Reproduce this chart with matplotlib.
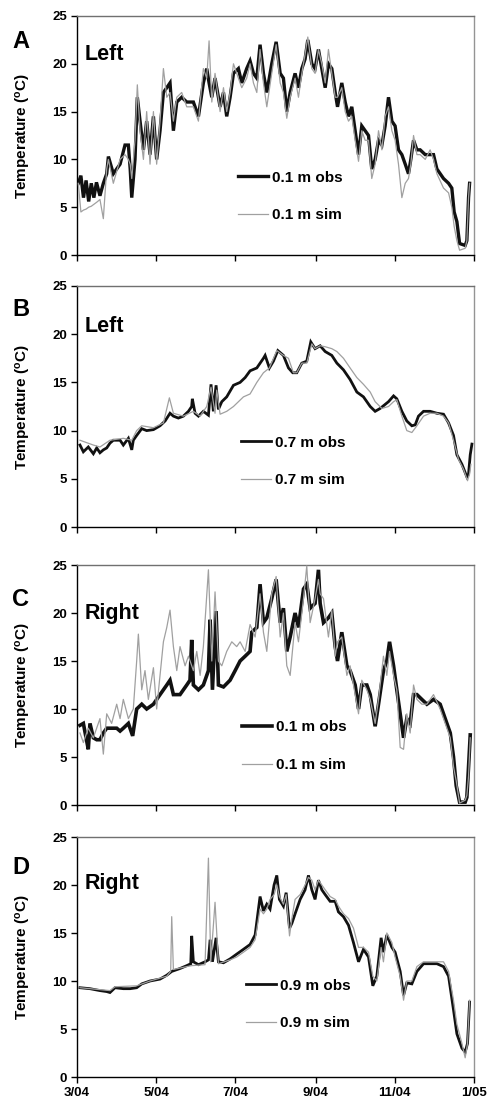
import numpy as np
import matplotlib
matplotlib.use('Agg')
import matplotlib.pyplot as plt

plt.rcParams['font.family'] = ['Liberation Sans', 'DejaVu Sans']
plt.rcParams['mathtext.default'] = 'regular'

# ---------------- data ----------------
start_date = '2004-03-01'
end_date = '2005-01-01'
tick_dates = ['2004-03-01', '2004-05-01', '2004-07-01', '2004-09-01', '2004-11-01', '2005-01-01']
tick_labels = ['3/04', '5/04', '7/04', '9/04', '11/04', '1/05']
y_ticks = [0, 5, 10, 15, 20, 25]
panel_letters = ['A', 'B', 'C', 'D']
panel_sides = ['Left', 'Left', 'Right', 'Right']
obs_labels = ['0.1 m obs', '0.7 m obs', '0.1 m obs', '0.9 m obs']
sim_labels = ['0.1 m sim', '0.7 m sim', '0.1 m sim', '0.9 m sim']

# Panel A (days since 1 March 2004)
a_days = [1.0, 3.0, 5.0, 7.0, 9.0, 11.0, 13.0, 15.0, 17.7, 20.3,
          22.9, 24.2, 28.0, 33.2, 37.0, 39.6, 41.0, 42.2, 44.7, 46.5,
          48.6, 51.2, 53.7, 56.3, 58.9, 61.4, 64.0, 66.6, 69.2, 71.7,
          74.3, 76.9, 80.7, 84.6, 89.7, 93.6, 97.4, 100.0, 101.8, 103.9,
          106.4, 110.3, 112.9, 115.4, 118.0, 120.6, 124.4, 127.0, 130.8, 133.4,
          136.0, 138.6, 141.1, 143.7, 146.3, 150.1, 153.5, 156.6, 159.1, 161.7,
          164.3, 168.1, 170.7, 173.3, 175.8, 177.9, 181.0, 183.5, 186.1, 188.7,
          191.3, 193.8, 196.4, 199.0, 200.8, 204.1, 206.7, 209.3, 211.8, 214.4,
          217.0, 219.5, 222.1, 224.7, 227.2, 229.8, 232.4, 235.0, 237.5, 240.1,
          242.7, 245.2, 247.8, 250.4, 253.0, 255.5, 257.3, 259.4, 262.0, 264.5,
          268.4, 272.2, 274.8, 277.4, 282.5, 286.4, 288.9, 290.7, 292.8, 294.9,
          299.2, 300.5, 301.8, 302.6]
a_obs = [7.5, 8.3, 6.0, 7.8, 5.6, 7.5, 6.0, 7.6, 6.2, 7.5,
         8.5, 10.3, 8.5, 9.5, 11.5, 11.5, 9.0, 6.0, 10.0, 16.5,
         14.0, 11.0, 14.0, 10.5, 14.5, 10.0, 13.0, 17.0, 17.5, 18.0,
         13.0, 16.0, 16.5, 16.0, 16.0, 14.5, 18.0, 19.5, 18.0, 16.5,
         18.5, 15.5, 17.0, 14.5, 16.5, 19.0, 19.5, 18.0, 19.5, 20.3,
         19.0, 18.5, 22.0, 19.0, 17.0, 20.0, 22.3, 19.0, 18.5, 15.0,
         17.0, 19.0, 17.5, 19.5, 20.5, 22.5, 20.0, 19.5, 21.5, 19.5,
         17.5, 20.0, 19.5, 17.0, 15.5, 18.0, 16.0, 14.5, 15.5, 13.0,
         10.5, 13.5, 13.0, 12.5, 9.0, 10.0, 12.0, 11.5, 13.5, 16.5,
         14.0, 13.5, 11.0, 10.5, 9.5, 8.5, 10.0, 12.0, 11.0, 11.0,
         10.5, 10.5, 10.5, 9.0, 8.0, 7.5, 7.0, 4.5, 3.5, 1.2,
         1.0, 1.5, 6.0, 7.5]
a_sim = [7.5, 4.5, 4.7, 4.8, 5.0, 5.1, 5.3, 5.5, 5.8, 3.8,
         9.0, 10.0, 7.5, 10.0, 10.5, 10.0, 9.5, 8.0, 12.0, 17.8,
         13.0, 10.0, 15.0, 9.5, 15.0, 9.5, 14.0, 19.5, 16.5, 17.0,
         14.0, 16.5, 17.0, 15.5, 15.5, 14.0, 19.5, 18.5, 22.4, 16.0,
         19.0, 15.0, 17.5, 15.0, 17.0, 20.0, 18.5, 17.5, 18.5, 20.0,
         18.0, 17.0, 21.5, 18.0, 15.5, 19.0, 22.0, 18.0, 17.0, 14.3,
         16.5, 18.5, 16.5, 19.0, 21.0, 22.8, 19.5, 19.0, 21.5, 20.0,
         18.0, 21.5, 19.0, 16.5, 16.5, 17.5, 15.0, 14.0, 14.5, 12.0,
         9.8, 13.0, 12.0, 12.0, 8.0, 9.5, 13.0, 11.0, 14.5, 15.5,
         13.0, 12.0, 9.5, 6.0, 7.5, 8.0, 9.5, 12.5, 10.5, 10.5,
         10.0, 11.0, 10.0, 8.5, 7.0, 6.5, 5.0, 3.0, 1.5, 0.5,
         0.7, 1.5, 6.0, 7.5]

# Panel B
b_obs_days = [2.3, 4.9, 8.7, 12.6, 15.2, 17.7, 20.3, 22.9, 25.4, 28.0,
              33.2, 35.7, 39.6, 42.2, 43.4, 46.0, 49.9, 53.7, 58.9, 64.0,
              67.9, 71.7, 74.3, 78.1, 82.0, 85.9, 88.4, 88.9, 91.0, 93.6,
              97.4, 101.3, 103.3, 105.1, 107.2, 109.0, 111.6, 115.4, 120.6, 125.7,
              129.6, 133.4, 138.6, 143.7, 145.0, 148.3, 151.4, 154.8, 159.1, 163.0,
              166.3, 169.4, 173.3, 177.1, 180.2, 183.5, 187.4, 191.3, 196.4, 200.3,
              205.4, 210.5, 215.7, 220.8, 226.0, 229.8, 233.7, 240.1, 244.0, 246.5,
              250.4, 254.2, 258.1, 260.7, 263.2, 267.1, 272.2, 277.4, 282.5, 286.4,
              290.2, 292.8, 296.7, 300.5, 301.8, 303.1, 304.4]
b_obs = [8.5, 7.8, 8.3, 7.6, 8.2, 7.7, 8.0, 8.2, 8.7, 9.0,
         9.0, 8.5, 9.2, 8.0, 9.0, 9.5, 10.2, 10.0, 10.1, 10.5,
         11.0, 11.8, 11.5, 11.3, 11.5, 12.0, 12.5, 13.3, 11.8, 11.5,
         12.0, 11.6, 14.8, 12.0, 14.7, 12.2, 13.0, 13.5, 14.7, 15.0,
         15.5, 16.2, 16.5, 17.5, 17.8, 16.5, 17.2, 18.3, 17.8, 16.5,
         16.0, 16.0, 17.0, 17.2, 19.2, 18.5, 18.8, 18.2, 17.8, 17.0,
         16.3, 15.3, 14.0, 13.5, 12.5, 12.0, 12.3, 13.0, 13.6, 13.3,
         12.0, 11.0, 10.5, 10.6, 11.5, 12.0, 12.0, 11.8, 11.7, 10.8,
         9.5, 7.5, 6.5, 5.2, 5.5, 7.5, 8.6]
b_sim_days = [2.3, 12.6, 17.7, 25.4, 35.7, 42.2, 46.0, 49.9, 58.9, 66.6,
              71.2, 74.3, 82.0, 89.7, 94.9, 100.0, 103.3, 106.4, 107.7, 110.3,
              115.4, 120.6, 128.3, 133.4, 138.6, 143.7, 148.3, 154.0, 159.1, 163.0,
              166.8, 169.4, 173.3, 177.1, 181.0, 183.5, 187.4, 191.3, 196.4, 200.3,
              205.4, 210.5, 215.7, 220.8, 226.0, 229.8, 235.0, 240.1, 244.0, 246.5,
              250.4, 254.2, 258.1, 262.0, 267.1, 272.2, 277.4, 282.5, 286.4, 290.2,
              294.1, 297.9, 301.0, 302.6, 303.6]
b_sim = [9.0, 8.5, 8.3, 9.0, 9.2, 9.0, 10.0, 10.5, 10.3, 10.8,
         13.4, 11.8, 11.5, 12.0, 11.5, 12.5, 14.5, 11.8, 14.2, 11.7,
         12.0, 12.5, 13.5, 13.8, 15.0, 16.0, 16.5, 18.3, 17.8, 17.5,
         16.0, 16.0, 17.0, 17.0, 19.0, 18.5, 18.8, 18.7, 18.5, 18.2,
         17.5, 16.5, 15.5, 14.8, 14.0, 13.0, 12.3, 12.5, 13.0, 13.2,
         11.5, 10.0, 9.8, 10.5, 11.5, 11.8, 11.8, 11.5, 10.8, 9.0,
         7.0, 6.0, 4.8, 5.5, 6.5]

# Panel C
c_obs_days = [2.3, 4.9, 7.0, 8.7, 10.0, 12.6, 15.2, 17.7, 20.3, 22.9,
              25.4, 30.6, 33.2, 35.7, 39.6, 42.9, 46.0, 49.9, 53.7, 58.9,
              64.0, 69.2, 71.7, 74.3, 79.4, 84.6, 87.1, 88.4, 89.7, 93.6,
              97.4, 101.3, 102.6, 104.4, 107.2, 109.0, 112.9, 118.0, 121.9, 125.7,
              129.6, 133.4, 134.7, 138.6, 141.1, 143.7, 146.3, 150.1, 153.5, 156.6,
              159.1, 161.7, 164.3, 168.1, 170.7, 174.6, 177.1, 179.7, 183.5, 186.1,
              187.4, 190.0, 193.8, 196.4, 199.0, 200.8, 204.1, 208.0, 210.5, 214.4,
              217.0, 219.5, 223.4, 226.0, 229.8, 232.4, 236.2, 238.8, 240.9, 244.0,
              246.5, 249.1, 251.7, 254.2, 256.8, 259.4, 262.0, 265.8, 269.7, 274.8,
              279.9, 283.8, 287.7, 290.2, 292.3, 294.9, 299.2, 300.5, 301.8, 303.1]
c_obs = [8.3, 8.5, 7.0, 5.8, 8.5, 7.0, 6.8, 6.8, 7.5, 8.0,
         8.0, 8.0, 7.7, 8.0, 8.5, 7.2, 10.0, 10.5, 10.0, 10.5,
         11.5, 12.5, 13.0, 11.5, 11.5, 12.5, 13.0, 17.2, 12.5, 12.0,
         12.5, 14.0, 19.3, 12.0, 20.2, 12.5, 12.3, 13.0, 14.0, 15.0,
         15.5, 16.0, 18.0, 18.5, 23.0, 19.0, 19.5, 21.5, 23.5, 19.0,
         20.5, 16.0, 17.5, 20.0, 18.5, 22.5, 23.0, 20.5, 21.0, 24.5,
         21.0, 19.0, 19.5, 20.0, 16.5, 15.0, 18.0, 14.5, 14.0, 12.5,
         10.0, 12.5, 12.5, 11.5, 8.2, 10.5, 14.0, 15.0, 17.0, 14.5,
         12.0, 9.5, 7.0, 9.0, 8.5, 11.5, 11.5, 11.0, 10.5, 11.0,
         10.5, 9.0, 7.5, 5.0, 2.0, 0.3, 0.3, 0.8, 4.0, 7.3]
c_sim_days = [2.3, 4.9, 8.7, 12.6, 17.7, 20.3, 22.9, 26.7, 30.6, 33.2,
              35.7, 39.6, 43.4, 46.0, 47.3, 49.9, 52.4, 55.0, 58.9, 61.4,
              64.0, 66.6, 69.2, 71.7, 74.3, 76.9, 79.4, 83.3, 85.9, 89.7,
              92.3, 94.9, 97.4, 101.3, 103.9, 106.4, 109.0, 111.6, 115.4, 119.3,
              123.1, 125.7, 129.6, 133.4, 137.3, 141.1, 143.7, 146.3, 150.1, 153.5,
              156.6, 159.1, 161.7, 164.3, 168.1, 170.7, 174.6, 177.1, 179.7, 183.5,
              186.1, 187.4, 190.0, 193.8, 196.4, 199.0, 200.8, 204.1, 208.0, 210.5,
              214.4, 217.0, 219.5, 223.4, 226.0, 229.8, 232.4, 236.2, 238.8, 240.9,
              244.0, 246.5, 249.1, 251.7, 254.2, 256.8, 259.4, 262.0, 265.8, 269.7,
              274.8, 279.9, 283.8, 287.7, 290.2, 292.3, 294.9, 299.2, 300.5, 301.8,
              303.1]
c_sim = [7.5, 6.5, 8.0, 7.0, 9.0, 5.3, 9.5, 8.5, 10.5, 9.0,
         11.0, 9.0, 10.0, 15.0, 17.8, 12.0, 14.0, 11.0, 14.3, 10.0,
         13.5, 17.0, 18.5, 20.3, 16.5, 14.0, 16.5, 14.5, 15.5, 14.0,
         16.0, 13.5, 16.5, 24.5, 15.0, 22.2, 15.0, 14.5, 16.0, 17.0,
         16.5, 17.0, 16.0, 18.8, 17.5, 22.0, 18.0, 16.0, 22.0, 23.8,
         17.5, 20.0, 14.5, 13.5, 19.0, 17.0, 21.5, 24.9, 19.0, 21.5,
         23.5, 22.0, 21.5, 17.5, 20.3, 15.5, 17.0, 17.5, 13.5, 14.5,
         11.5, 9.5, 13.0, 12.0, 11.0, 8.5, 11.0, 15.5, 13.5, 16.0,
         13.5, 12.0, 6.0, 5.8, 9.5, 7.5, 12.5, 11.0, 10.5, 10.5,
         11.5, 10.0, 8.5, 7.0, 4.0, 2.5, 0.2, 0.5, 1.0, 3.0,
         7.0]

# Panel D
d_obs_days = [2.3, 10.0, 17.7, 22.9, 25.4, 29.3, 35.7, 40.9, 46.0, 49.9,
              56.3, 64.0, 69.2, 73.0, 79.4, 84.6, 87.7, 88.4, 89.7, 93.6,
              98.7, 101.3, 102.6, 104.4, 107.2, 109.0, 112.9, 118.0, 123.1, 128.3,
              133.4, 137.3, 141.1, 143.7, 146.3, 148.8, 151.9, 154.0, 156.0, 159.1,
              161.2, 163.8, 165.6, 168.1, 172.0, 175.8, 178.4, 181.0, 183.5, 186.1,
              188.7, 191.3, 195.1, 199.0, 201.5, 205.4, 209.3, 213.1, 217.0, 220.8,
              224.7, 228.0, 231.1, 234.4, 236.2, 238.8, 242.7, 245.2, 249.1, 251.7,
              254.2, 258.1, 262.0, 267.1, 272.2, 277.4, 282.5, 286.4, 290.2, 292.8,
              296.7, 299.2, 301.0, 302.6]
d_obs = [9.3, 9.2, 9.0, 8.9, 8.8, 9.3, 9.2, 9.2, 9.3, 9.7,
         10.0, 10.2, 10.6, 11.0, 11.3, 11.6, 11.8, 14.7, 12.0, 11.7,
         12.0, 12.2, 14.3, 12.0, 14.5, 12.0, 11.9, 12.3, 12.8, 13.3,
         13.8, 14.8, 18.8, 17.3, 18.0, 17.5, 20.0, 21.0, 18.5, 17.8,
         19.2, 15.5, 16.0, 17.0, 18.5, 19.5, 21.0, 19.5, 18.5, 20.5,
         19.5, 19.0, 18.3, 18.3, 17.2, 16.7, 15.8, 14.0, 12.0, 13.3,
         12.5, 9.5, 10.5, 14.5, 13.0, 14.8, 13.5, 13.0, 11.0, 8.5,
         9.8, 9.7, 11.0, 11.8, 11.8, 11.8, 11.5, 10.5, 7.0, 4.5,
         3.0, 2.6, 3.5, 7.8]
d_sim_days = [2.3, 17.7, 25.4, 29.3, 46.0, 56.3, 69.2, 72.2, 73.0, 74.3,
              84.6, 88.4, 98.7, 101.3, 103.1, 106.4, 109.0, 118.0, 123.1, 128.3,
              133.4, 137.3, 141.1, 143.7, 146.3, 148.8, 151.9, 154.0, 156.0, 159.1,
              161.2, 163.8, 165.6, 168.1, 172.0, 175.8, 178.4, 181.0, 183.5, 186.1,
              188.7, 191.3, 195.1, 199.0, 201.5, 205.4, 209.3, 213.1, 217.0, 220.8,
              224.7, 228.0, 231.1, 234.4, 236.2, 238.8, 242.7, 245.2, 249.1, 251.7,
              254.2, 258.1, 262.0, 267.1, 272.2, 277.4, 282.5, 286.4, 290.2, 292.8,
              296.7, 299.2, 301.0, 302.6]
d_sim = [9.3, 9.1, 9.0, 9.4, 9.5, 10.0, 10.5, 11.0, 16.7, 11.2,
         11.5, 11.6, 11.7, 22.8, 12.0, 18.2, 11.8, 12.2, 12.5, 13.0,
         13.5, 14.3, 17.5, 17.0, 17.5, 18.5, 19.0, 20.0, 18.8, 18.0,
         19.0, 14.7, 16.5, 18.5, 19.0, 20.0, 20.8, 20.5, 19.5, 20.5,
         20.0, 19.5, 18.8, 18.5, 17.8, 17.0, 16.5, 15.5, 13.5, 13.5,
         13.0, 10.5, 10.0, 13.5, 12.0, 15.0, 14.0, 12.5, 10.5, 8.0,
         10.0, 10.0, 11.5, 12.0, 12.0, 12.0, 12.0, 11.0, 8.0, 5.5,
         3.5, 2.0, 3.5, 8.0]

# ---------------- drawing ----------------
def to_dates(days):
    minutes = np.round(np.asarray(days, dtype=float) * 1440).astype(np.int64)
    return np.datetime64(start_date) + minutes.astype('timedelta64[m]')

panels = [
    (a_days, a_obs, a_days, a_sim),
    (b_obs_days, b_obs, b_sim_days, b_sim),
    (c_obs_days, c_obs, c_sim_days, c_sim),
    (d_obs_days, d_obs, d_sim_days, d_sim),
]

W, H = 492, 1110
fig = plt.figure(figsize=(W / 100, H / 100), dpi=100)

# pixel layout: (top, bottom) of each axes
ax_tb = [(16, 255), (286, 527), (565, 805), (837, 1077)]
ax_left, ax_right = 77, 474
letter_y = [42, 310, 600, 868]
side_y = [55, 327, 613, 883]
legend_center = [0.245, 0.272, 0.245, 0.302]
legend_x = [0.405, 0.412, 0.415, 0.425]
obs_lw = [2.4, 2.0, 2.6, 2.0]

for i, (od, ov, sd, sv) in enumerate(panels):
    top, bot = ax_tb[i]
    ax = fig.add_axes([ax_left / W, 1 - bot / H, (ax_right - ax_left) / W, (bot - top) / H])
    ax.plot(to_dates(od), ov, color='#111111', lw=obs_lw[i], solid_joinstyle='miter',
            label=obs_labels[i], zorder=2)
    ax.plot(to_dates(sd), sv, color='#a0a0a0', lw=0.9, label=sim_labels[i], zorder=3)

    ax.set_xlim(np.datetime64(start_date), np.datetime64(end_date))
    ax.set_ylim(0, 25)
    ax.set_yticks(y_ticks)
    ax.set_yticklabels([str(v) for v in y_ticks], fontsize=9.5, fontweight='bold')
    ax.set_xticks([np.datetime64(d) for d in tick_dates])
    if i == 3:
        ax.set_xticklabels(tick_labels, fontsize=9.5, fontweight='bold')
    else:
        ax.set_xticklabels([])
    ax.tick_params(axis='both', direction='out', length=4, width=1, colors='black', pad=3)
    for s in ['left', 'bottom']:
        ax.spines[s].set_color('black')
        ax.spines[s].set_linewidth(1.0)
    ax.spines['top'].set_color('#707070')
    ax.spines['right'].set_color('#949494')
    ax.spines['top'].set_linewidth(1.0)
    ax.spines['right'].set_linewidth(1.0)
    ax.set_ylabel('Temperature ($^{o}$C)', fontsize=11, fontweight='bold')
    ax.yaxis.set_label_coords((33 - ax_left) / (ax_right - ax_left), 0.5)

    leg = ax.legend(loc='center left', bbox_to_anchor=(legend_x[i], legend_center[i]),
                    frameon=False, fontsize=11, handlelength=2.0, handletextpad=0.25,
                    labelspacing=1.55, borderpad=0, borderaxespad=0)
    for t in leg.get_texts():
        t.set_fontweight('bold')

    fig.text(12 / W, 1 - letter_y[i] / H, panel_letters[i], fontsize=17, fontweight='bold',
             ha='left', va='center')
    fig.text(85 / W, 1 - side_y[i] / H, panel_sides[i], fontsize=15.5, fontweight='bold',
             ha='left', va='center')

fig.savefig('out.png', dpi=100)
